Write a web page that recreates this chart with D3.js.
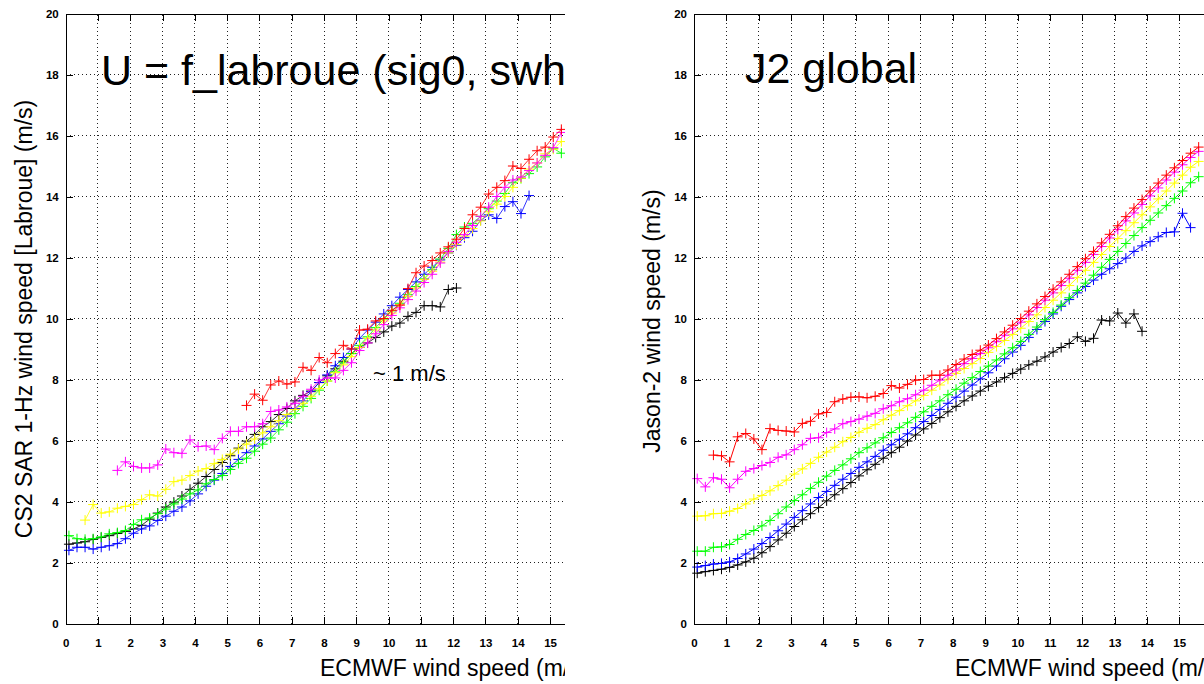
<!DOCTYPE html>
<html><head><meta charset="utf-8">
<script src="https://cdn.jsdelivr.net/npm/d3@7"></script>
<style>
body{margin:0;background:#fff;}
svg{display:block;font-family:"Liberation Sans",Arial,Helvetica,sans-serif;}
</style>
</head><body>
<svg id="chart" width="1204" height="684"></svg>
<script>
// ECMWF wind-speed bin centres (m/s)
const windBins = [0.1,0.35,0.6,0.85,1.1,1.35,1.6,1.85,2.1,2.35,2.6,2.85,3.1,3.35,3.6,3.85,4.1,4.35,4.6,4.85,
  5.1,5.35,5.6,5.85,6.1,6.35,6.6,6.85,7.1,7.35,7.6,7.85,8.1,8.35,8.6,8.85,9.1,9.35,9.6,9.85,
  10.1,10.35,10.6,10.85,11.1,11.35,11.6,11.85,12.1,12.35,12.6,12.85,13.1,13.35,13.6,13.85,14.1,14.35,14.6,14.85,
  15.1,15.35,15.6];
const xTicks = [0,1,2,3,4,5,6,7,8,9,10,11,12,13,14,15];
const yTicks = [0,2,4,6,8,10,12,14,16,18,20];

// Left panel: CS2 SAR 1-Hz wind speed [Labroue]
const cs2Black = [2.6,2.64,2.68,2.76,2.82,2.88,2.95,3.02,3.1,3.22,3.42,3.62,3.82,3.98,4.18,4.4,4.6,4.82,5.05,5.28,
  5.5,5.75,5.98,6.2,6.45,6.62,6.85,7.05,7.3,7.48,7.62,7.9,8.12,8.35,8.6,8.85,9.05,9.2,9.38,9.56,
  9.75,9.85,10.07,10.2,10.42,10.42,10.38,10.95,11.0,null,null,null,null,null,null,null,null,null,null,null,null,null];
const cs2Blue = [2.4,2.5,2.5,2.44,2.5,2.55,2.62,2.78,2.96,3.1,3.2,3.38,3.52,3.68,3.82,4.02,4.25,4.5,4.7,4.92,
  5.15,5.38,5.6,5.82,6.05,6.3,6.55,6.8,7.05,7.3,7.6,7.9,8.15,8.45,8.72,9.0,9.35,9.62,9.88,10.15,
  10.42,10.7,10.95,11.2,11.45,11.68,11.92,12.15,12.4,12.65,12.86,13.22,13.4,13.28,13.67,13.83,13.44,14.03,null,null,null,null];
const cs2Green = [2.88,2.78,2.76,2.78,2.84,2.94,2.98,3.05,3.25,3.4,3.46,3.6,3.75,3.92,4.08,4.25,4.38,4.58,4.72,4.85,
  5.05,5.25,5.42,5.65,5.88,6.08,6.35,6.6,6.88,7.12,7.38,7.65,7.95,8.25,8.55,8.85,9.12,9.4,9.7,9.98,
  10.25,10.5,10.78,11.05,11.3,11.6,11.95,12.3,12.75,13.0,13.12,13.35,13.6,13.85,14.1,14.45,14.59,14.75,14.97,15.3,
  15.58,15.42];
const cs2Yellow = [null,null,3.39,3.9,3.62,3.66,3.78,3.84,3.9,4.06,4.22,4.18,4.4,4.65,4.7,4.85,5.0,5.08,5.24,5.38,
  5.55,5.72,5.88,6.05,6.25,6.45,6.65,6.85,7.02,7.22,7.45,7.7,7.95,8.22,8.48,8.75,9.05,9.35,9.62,9.92,
  10.18,10.45,10.72,11.0,11.28,11.55,11.85,12.15,12.42,12.7,12.95,13.2,13.5,13.75,14.0,14.3,14.6,14.9,15.1,15.4,
  15.55,15.8];
const cs2Magenta = [null,null,null,null,null,null,5.02,5.3,5.15,5.1,5.1,5.2,5.72,5.6,5.58,6.02,5.8,5.82,5.7,6.07,
  6.3,6.3,6.45,6.45,6.55,6.95,7.0,7.1,7.22,7.45,7.68,7.98,8.05,8.05,8.3,8.55,8.95,9.2,9.5,9.8,
  10.1,10.35,10.62,10.9,11.18,11.45,11.82,12.2,12.5,12.75,13.05,13.35,13.65,14.0,14.3,14.54,14.64,14.85,15.1,15.35,
  15.6,16.1];
const cs2Red = [null,null,null,null,null,null,null,null,null,null,null,null,null,null,null,null,null,null,null,null,
  null,null,7.15,7.52,7.32,7.82,7.95,7.85,7.92,8.4,8.3,8.72,8.55,8.85,9.12,9.0,9.62,9.65,9.92,10.0,
  10.27,10.44,10.98,11.5,11.72,11.9,12.15,12.35,12.6,12.95,13.4,13.65,14.08,14.3,14.52,15.0,14.92,15.22,15.5,15.62,
  15.95,16.2];

// Right panel: Jason-2 wind speed
const j2Black = [1.65,1.7,1.74,1.78,1.84,1.92,2.02,2.14,2.32,2.52,2.74,2.96,3.18,3.4,3.6,3.8,4.02,4.22,4.42,4.62,
  4.84,5.04,5.22,5.42,5.6,5.78,5.98,6.18,6.38,6.56,6.75,6.94,7.12,7.3,7.46,7.62,7.78,7.92,8.06,8.2,
  8.34,8.48,8.6,8.74,8.9,9.05,9.18,9.4,9.25,9.35,9.95,9.92,10.18,9.85,10.15,9.58,null,null,null,null,
  null,null,null];
const j2Blue = [1.85,1.9,1.95,1.97,2.02,2.13,2.28,2.44,2.62,2.82,3.04,3.26,3.48,3.7,3.92,4.13,4.33,4.53,4.73,4.92,
  5.12,5.3,5.48,5.68,5.86,6.04,6.22,6.42,6.62,6.82,7.02,7.22,7.42,7.62,7.82,8.02,8.22,8.44,8.68,8.9,
  9.12,9.38,9.64,9.9,10.15,10.4,10.62,10.84,11.05,11.26,11.45,11.63,11.8,11.98,12.2,12.38,12.52,12.68,12.82,12.84,
  13.45,12.98,null];
const j2Green = [2.37,2.37,2.5,2.51,2.59,2.76,2.92,3.05,3.2,3.38,3.6,3.82,4.03,4.22,4.43,4.63,4.83,5.02,5.2,5.4,
  5.6,5.76,5.92,6.09,6.26,6.42,6.58,6.76,6.94,7.12,7.3,7.5,7.68,7.88,8.06,8.26,8.44,8.64,8.84,9.04,
  9.25,9.48,9.72,9.96,10.2,10.44,10.68,10.92,11.16,11.42,11.68,11.94,12.2,12.46,12.72,12.98,13.22,13.46,13.7,13.94,
  14.18,14.45,14.65];
const j2Yellow = [3.52,3.53,3.6,3.61,3.68,3.77,3.92,4.08,4.2,4.35,4.52,4.7,4.9,5.07,5.25,5.45,5.62,5.78,5.96,6.1,
  6.27,6.4,6.52,6.68,6.83,6.98,7.14,7.3,7.48,7.65,7.82,8.01,8.2,8.36,8.52,8.69,8.89,9.08,9.28,9.48,
  9.68,9.9,10.12,10.36,10.6,10.84,11.08,11.34,11.58,11.84,12.1,12.36,12.62,12.88,13.14,13.4,13.66,13.92,14.18,14.44,
  14.7,14.96,15.15];
const j2Magenta = [4.75,4.48,4.78,4.73,4.45,4.73,4.99,5.08,5.18,5.28,5.45,5.53,5.7,5.86,6.07,6.09,6.26,6.38,6.55,6.62,
  6.7,6.8,6.89,7.04,7.14,7.27,7.37,7.5,7.65,7.81,7.98,8.14,8.31,8.52,8.69,8.85,9.04,9.24,9.45,9.66,
  9.88,10.12,10.36,10.6,10.84,11.08,11.32,11.58,11.84,12.1,12.36,12.64,12.92,13.2,13.46,13.74,14.02,14.28,14.54,14.8,
  15.04,15.28,15.48];
const j2Red = [null,null,5.52,5.5,5.3,6.12,6.23,6.05,5.7,6.39,6.33,6.31,6.28,6.56,6.63,6.87,6.92,7.27,7.36,7.42,
  7.43,7.4,7.45,7.54,7.8,7.72,7.84,7.98,8.0,8.14,8.14,8.31,8.49,8.67,8.82,8.96,9.13,9.34,9.56,9.78,
  10.0,10.24,10.48,10.72,10.96,11.2,11.45,11.7,11.96,12.2,12.48,12.76,13.04,13.34,13.62,13.9,14.18,14.44,14.7,14.94,
  15.18,15.42,15.62];

const seriesColors = ["#000000","#0000ff","#00ff00","#ffff00","#ff00ff","#ff0000"];
const cs2Series = [cs2Black, cs2Blue, cs2Green, cs2Yellow, cs2Magenta, cs2Red];
const j2Series = [j2Black, j2Blue, j2Green, j2Yellow, j2Magenta, j2Red];

const svg = d3.select("#chart");
svg.append("rect").attr("width",1204).attr("height",684).attr("fill","#fff");
const defs = svg.append("defs");

function drawPanel(cfg) {
  const clipId = cfg.id + "-clip";
  defs.append("clipPath").attr("id", clipId).append("rect")
    .attr("x", 0).attr("y", 0).attr("width", cfg.clipRight).attr("height", 684);
  const panel = svg.append("g").attr("clip-path", `url(#${clipId})`);

  const x = d3.scaleLinear().domain([0, cfg.xMax]).range([cfg.left, cfg.right]);
  const y = d3.scaleLinear().domain([0, 20]).range([623.5, 13.5]);

  // grid
  const grid = panel.append("g").attr("stroke", "#222").attr("stroke-width", 1)
    .attr("stroke-dasharray", "1,3").attr("shape-rendering", "crispEdges");
  grid.selectAll("line.v").data(xTicks.filter(t => t > 0)).join("line")
    .attr("x1", d => x(d)).attr("x2", d => x(d)).attr("y1", y(0)).attr("y2", y(20));
  grid.selectAll("line.h").data(yTicks.filter(t => t > 0 && t < 20)).join("line")
    .attr("x1", x(0)).attr("x2", cfg.right).attr("y1", d => y(d)).attr("y2", d => y(d));

  // series
  const line = d3.line().defined(d => d.v != null).x(d => x(d.x)).y(d => y(d.v));
  cfg.series.forEach((vals, i) => {
    const pts = vals.map((v, k) => ({x: windBins[k], v: v}));
    panel.append("path").datum(pts).attr("d", line).attr("fill", "none")
      .attr("stroke", seriesColors[i]).attr("stroke-width", cfg.lineWidth);
    panel.append("g").selectAll("path").data(pts.filter(d => d.v != null)).join("path")
      .attr("transform", d => `translate(${x(d.x)},${y(d.v)})`)
      .attr("d", "M-5,0H5M0,-5V5").attr("stroke", seriesColors[i]).attr("stroke-width", 1).attr("fill", "none");
  });

  // axes
  const fontTick = "11.5px";
  const ax = panel.append("g").attr("transform", `translate(0,${y(0)})`)
    .call(d3.axisBottom(x).tickValues(xTicks).tickSize(-7).tickSizeOuter(0).tickPadding(15));
  const at = panel.append("g").attr("transform", `translate(0,${y(20)})`)
    .call(d3.axisTop(x).tickValues(xTicks).tickSize(-7).tickSizeOuter(0).tickFormat(""));
  const al = panel.append("g").attr("transform", `translate(${x(0)},0)`)
    .call(d3.axisLeft(y).tickValues(yTicks).tickSize(-7).tickSizeOuter(0).tickPadding(7));
  [ax, at, al].forEach(a => {
    a.selectAll("path,line").attr("stroke", "#000").attr("stroke-width", 1).attr("shape-rendering", "crispEdges");
    a.selectAll("text").attr("fill", "#000").attr("font-size", fontTick).attr("font-weight", "bold")
      .attr("font-family", '"Liberation Sans",Arial,sans-serif');
  });

  // texts
  panel.append("text").attr("x", cfg.titleX).attr("y", cfg.titleY).attr("font-size", "43px")
    .attr("fill", "#000").text(cfg.title);
  panel.append("text").attr("x", cfg.xLabelX).attr("y", 676).attr("font-size", "23px")
    .attr("fill", "#000").text("ECMWF wind speed (m/s)");
  panel.append("text").attr("transform", `translate(${cfg.yLabelX},${cfg.yLabelY}) rotate(-90)`)
    .attr("text-anchor", "middle").attr("font-size", "23px").attr("fill", "#000").text(cfg.yLabel);
  if (cfg.note) {
    panel.append("text").attr("x", cfg.note.x).attr("y", cfg.note.y).attr("font-size", "22px")
      .attr("fill", "#000").text(cfg.note.text);
  }
}

drawPanel({
  id: "cs2", left: 65.7, right: 564, xMax: (564 - 65.7) / 32.29, clipRight: 565,
  series: cs2Series, lineWidth: 0.8,
  title: "U = f_labroue (sig0, swh)", titleX: 101, titleY: 85,
  xLabelX: 320, yLabel: "CS2 SAR 1-Hz wind speed [Labroue] (m/s)", yLabelX: 32, yLabelY: 319,
  note: {x: 373, y: 381, text: "~ 1 m/s"}
});
drawPanel({
  id: "j2", left: 694, right: 1204, xMax: (1204 - 694) / 32.35, clipRight: 1204,
  series: j2Series, lineWidth: 1,
  title: "J2 global", titleX: 745, titleY: 83,
  xLabelX: 955, yLabel: "Jason-2 wind speed (m/s)", yLabelX: 660, yLabelY: 321
});
</script>
</body></html>
